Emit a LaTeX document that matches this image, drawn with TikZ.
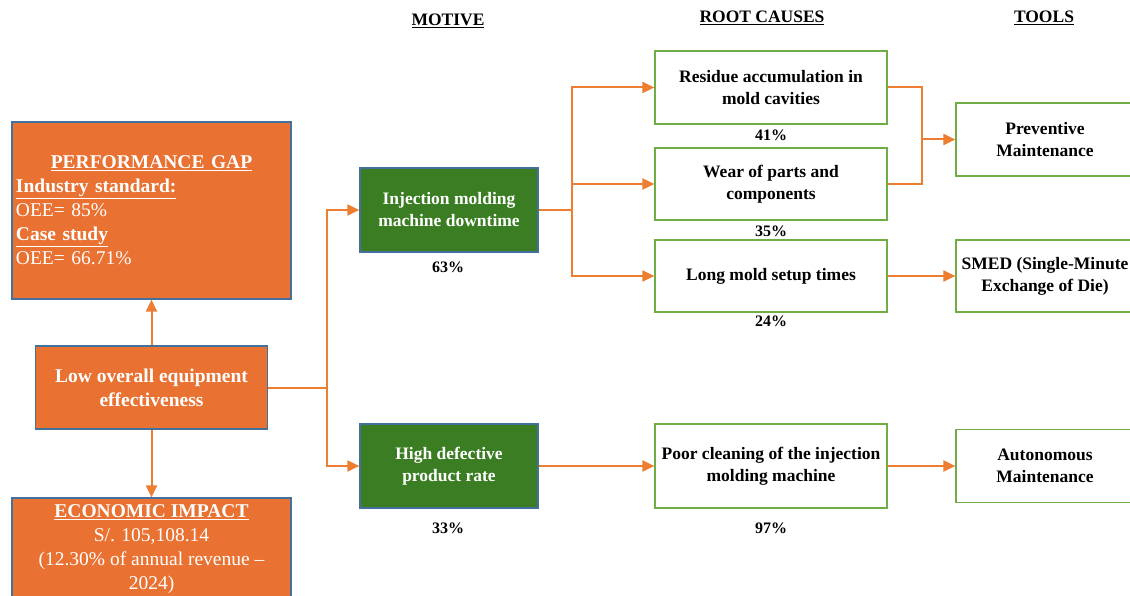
\documentclass[tikz,border=0pt]{standalone}
\usepackage{fontspec}
\setmainfont{Liberation Serif}
\usetikzlibrary{positioning,arrows.meta}
\definecolor{oeeorange}{HTML}{E97132}
\definecolor{arroworange}{HTML}{ED7D31}
\definecolor{motivegreen}{HTML}{3A7D22}
\definecolor{causegreen}{HTML}{70AD47}
\definecolor{boxedge}{HTML}{41719C}

\begin{document}
\begin{tikzpicture}[x=1pt, y=-1pt, every node/.style={align=center, inner sep=2pt},
    orangebox/.style={draw=boxedge, line width=1.2pt, fill=oeeorange, text=white,
      font=\fontsize{19.5}{24}\selectfont},
    greenbox/.style={draw=boxedge, line width=1.2pt, fill=motivegreen, text=white,
      minimum width=178, minimum height=84, font=\fontsize{17.5}{22}\selectfont\bfseries},
    causebox/.style={draw=causegreen, line width=1.2pt, fill=white,
      minimum width=232, font=\fontsize{17.5}{22}\selectfont\bfseries},
    toolbox/.style={causebox, minimum width=178, minimum height=73},
    share/.style={font=\fontsize{16}{19}\selectfont\bfseries},
    heading/.style={font=\fontsize{17.5}{22}\selectfont\bfseries},
    arr/.style={draw=arroworange, line width=2pt, -{Triangle[length=12pt,width=11pt]}},
    line/.style={draw=arroworange, line width=2pt}]
    \clip (0,0) rectangle (1130,596);

    \node[heading] (hmotive) at (448,21) {\underline{MOTIVE}};
    \node[heading] (hcauses) at (762,18) {\underline{ROOT CAUSES}};
    \node[heading] (htools) at (1044,18) {\underline{TOOLS}};

    \node[orangebox, minimum width=279, minimum height=177, text width=271, align=left] (gap) at (151.5,210.5)
      {\makebox[271pt]{\bfseries\underline{PERFORMANCE GAP}}\\
       \textbf{\underline{Industry standard:}}\\ OEE= 85\%\\
       \textbf{\underline{Case study}}\\ OEE= 66.71\%};
    \node[orangebox, minimum width=232, minimum height=83] (low) at (151.5,387.5)
      {\bfseries Low overall equipment\\ \bfseries effectiveness};
    \node[orangebox, minimum width=279, minimum height=102] (econ) at (151.5,549)
      {\bfseries\underline{ECONOMIC IMPACT}\\ S/. 105,108.14\\ (12.30\% of annual revenue –\\ 2024)};

    \node[greenbox] (down) at (449,210) {Injection molding\\ machine downtime};
    \node[greenbox] (defect) at (449,466) {High defective\\ product rate};
    \node[share] (pdown) at (448,267) {63\%};
    \node[share] (pdefect) at (448,528) {33\%};

    \node[causebox, minimum height=73] (residue) at (771,87.5) {Residue accumulation in\\ mold cavities};
    \node[causebox, minimum height=72] (wear) at (771,184) {Wear of parts and\\ components};
    \node[causebox, minimum height=72] (setup) at (771,276) {Long mold setup times};
    \node[causebox, minimum height=84] (clean) at (771,466) {Poor cleaning of the injection\\ molding machine};
    \node[share] (presidue) at (771,135) {41\%};
    \node[share] (pwear) at (771,231) {35\%};
    \node[share] (psetup) at (771,321) {24\%};
    \node[share] (pclean) at (771,528) {97\%};

    \node[toolbox] (prev) at (1045,139.5) {Preventive\\ Maintenance};
    \node[toolbox, minimum height=72] (smed) at (1045,276) {SMED (Single-Minute\\ Exchange of Die)};
    \node[toolbox] (auto) at (1045,466) {Autonomous\\ Maintenance};

    \coordinate (jlow) at (327,387.5);
    \coordinate (jdown) at (572,210);
    \coordinate (jprev) at (922,139.5);

    \path[arr] (low.north) -- (gap.south);
    \path[arr] (low.south) -- (econ.north);
    \path[line] (low.east) -- (jlow);
    \path[arr] (jlow) |- (down.west);
    \path[arr] (jlow) |- (defect.west);

    \path[line] (down.east) -- (jdown);
    \path[arr] (jdown) |- (residue.west);
    \path[arr] (jdown) |- (wear.west);
    \path[arr] (jdown) |- (setup.west);
    \path[arr] (defect.east) -- (clean.west);

    \path[line] (residue.east) -| (jprev);
    \path[line] (wear.east) -| (jprev);
    \path[arr] (jprev) -- (prev.west);
    \path[arr] (setup.east) -- (smed.west);
    \path[arr] (clean.east) -- (auto.west);
\end{tikzpicture}
\end{document}
